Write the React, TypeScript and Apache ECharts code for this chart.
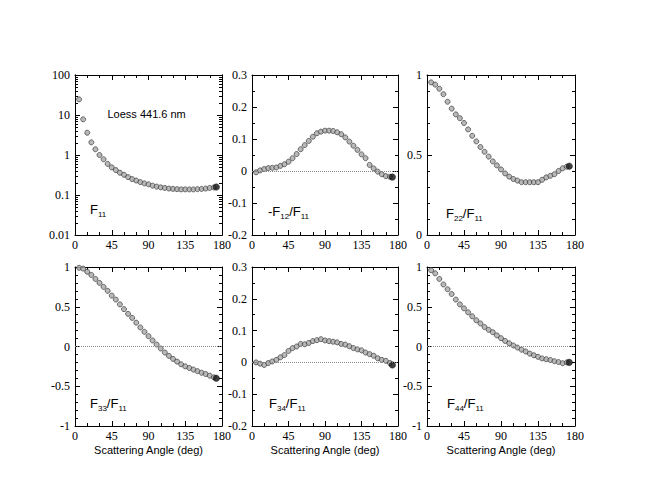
import React, { useEffect, useRef } from 'react';
import * as echarts from 'echarts';

// Scattering angles (deg)
const angles = [5, 10, 15, 20, 25, 30, 35, 40, 45, 50, 55, 60, 65, 70, 75, 80, 85, 90, 95, 100, 105, 110, 115, 120, 125, 130, 135, 140, 145, 150, 155, 160, 165, 170];
const lastAngle = 173;

const f11 = [24.6, 7.8, 3.6, 2.07, 1.39, 1.0, 0.78, 0.6, 0.49, 0.42, 0.36, 0.32, 0.28, 0.25, 0.23, 0.21, 0.195, 0.185, 0.171, 0.162, 0.155, 0.15, 0.145, 0.142, 0.14, 0.138, 0.138, 0.138, 0.138, 0.14, 0.142, 0.145, 0.15, 0.155];
const f11Last = 0.158;

const mf12 = [-0.004, 0.002, 0.006, 0.009, 0.01, 0.011, 0.016, 0.021, 0.029, 0.04, 0.053, 0.068, 0.081, 0.094, 0.107, 0.118, 0.123, 0.126, 0.126, 0.125, 0.121, 0.115, 0.105, 0.092, 0.079, 0.066, 0.052, 0.04, 0.019, 0.008, -0.002, -0.01, -0.016, -0.018];
const mf12Last = -0.019;

const f22 = [0.954, 0.94, 0.914, 0.88, 0.833, 0.79, 0.754, 0.73, 0.7, 0.66, 0.62, 0.585, 0.55, 0.52, 0.49, 0.46, 0.435, 0.41, 0.385, 0.365, 0.35, 0.34, 0.33, 0.33, 0.33, 0.33, 0.33, 0.345, 0.36, 0.37, 0.38, 0.4, 0.417, 0.427];
const f22Last = 0.43;

const f33 = [0.99, 0.98, 0.94, 0.9, 0.85, 0.8, 0.75, 0.7, 0.64, 0.59, 0.53, 0.47, 0.41, 0.36, 0.3, 0.24, 0.185, 0.13, 0.076, 0.025, -0.025, -0.076, -0.118, -0.156, -0.19, -0.224, -0.25, -0.27, -0.29, -0.31, -0.33, -0.346, -0.367, -0.388];
const f33Last = -0.4;

const f34 = [0.0, -0.004, -0.008, -0.002, 0.003, 0.008, 0.016, 0.023, 0.036, 0.045, 0.05, 0.058, 0.057, 0.061, 0.067, 0.07, 0.073, 0.069, 0.067, 0.065, 0.063, 0.058, 0.056, 0.051, 0.045, 0.041, 0.038, 0.031, 0.026, 0.021, 0.013, 0.008, 0.005, -0.002];
const f34Last = -0.008;

const f44 = [0.96, 0.92, 0.85, 0.78, 0.72, 0.66, 0.59, 0.53, 0.48, 0.43, 0.38, 0.33, 0.29, 0.245, 0.21, 0.18, 0.14, 0.105, 0.07, 0.04, 0.013, -0.013, -0.04, -0.063, -0.09, -0.11, -0.13, -0.15, -0.16, -0.17, -0.185, -0.196, -0.21, -0.2];
const f44Last = -0.2;

const logMajor = [0.01, 0.1, 1, 10, 100];
const logMinor = [0.02, 0.03, 0.04, 0.05, 0.06, 0.07, 0.08, 0.09, 0.2, 0.3, 0.4, 0.5, 0.6, 0.7, 0.8, 0.9, 2, 3, 4, 5, 6, 7, 8, 9, 20, 30, 40, 50, 60, 70, 80, 90];

const title = 'Loess 441.6 nm';
const xTitle = 'Scattering Angle (deg)';

const panels = [
  { values: f11, last: f11Last, log: true, min: 0.01, max: 100, interval: 0, minorSplit: 0, zero: false, grid: { left: 75, top: 75, width: 147, height: 160 }, label: '{n|F}{s|11}', lx: 90, ly: 201 },
  { values: mf12, last: mf12Last, log: false, min: -0.2, max: 0.3, interval: 0.1, minorSplit: 2, zero: true, grid: { left: 252, top: 75, width: 146, height: 160 }, label: '{n|-F}{s|12}{n|/F}{s|11}', lx: 268, ly: 203 },
  { values: f22, last: f22Last, log: false, min: 0, max: 1, interval: 0.5, minorSplit: 5, zero: false, grid: { left: 427, top: 75, width: 148, height: 160 }, label: '{n|F}{s|22}{n|/F}{s|11}', lx: 446, ly: 205 },
  { values: f33, last: f33Last, log: false, min: -1, max: 1, interval: 0.5, minorSplit: 5, zero: true, grid: { left: 75, top: 267, width: 147, height: 159 }, label: '{n|F}{s|33}{n|/F}{s|11}', lx: 90, ly: 395 },
  { values: f34, last: f34Last, log: false, min: -0.2, max: 0.3, interval: 0.1, minorSplit: 2, zero: true, grid: { left: 252, top: 267, width: 146, height: 159 }, label: '{n|F}{s|34}{n|/F}{s|11}', lx: 269, ly: 395 },
  { values: f44, last: f44Last, log: false, min: -1, max: 1, interval: 0.5, minorSplit: 5, zero: true, grid: { left: 427, top: 267, width: 148, height: 159 }, label: '{n|F}{s|44}{n|/F}{s|11}', lx: 447, ly: 395 },
];

const serif = 'Liberation Serif';
const sans = 'Liberation Sans';

export default function App() {
  const ref = useRef<HTMLDivElement>(null);
  useEffect(() => {
    if (!ref.current) return;
    const chart = echarts.init(ref.current, null, { renderer: 'svg' });
    const grids: any[] = [];
    const xAxes: any[] = [];
    const yAxes: any[] = [];
    const series: any[] = [];
    const graphics: any[] = [];
    const axisLine = { show: true, onZero: false, lineStyle: { color: '#000', width: 1 } };
    const tick = { show: true, inside: true, length: 5, lineStyle: { color: '#000', width: 1 } };
    const minor = (n: number) => ({ show: n > 0, splitNumber: n || 5, length: 3, lineStyle: { color: '#000', width: 1 } });

    panels.forEach((p, i) => {
      grids.push({ ...p.grid, containLabel: false, show: false });
      const xBase = { type: 'value', gridIndex: i, min: 0, max: 180, interval: 45, axisLine, axisTick: tick, minorTick: minor(3), splitLine: { show: false } };
      const xi = xAxes.length;
      xAxes.push({ ...xBase, position: 'bottom', axisLabel: { show: true, margin: 4, color: '#000', fontFamily: serif, fontSize: 12 } });
      xAxes.push({ ...xBase, position: 'top', axisLabel: { show: false } });
      const yi = yAxes.length;
      if (p.log) {
        const yBase = { type: 'log', logBase: 10, gridIndex: i, min: p.min, max: p.max, axisLine, splitLine: { show: false } };
        yAxes.push({ ...yBase, position: 'left', axisTick: { ...tick, customValues: logMajor }, axisLabel: { show: true, customValues: logMajor, margin: 5, color: '#000', fontFamily: serif, fontSize: 12, formatter: (v: number) => String(v) } });
        yAxes.push({ ...yBase, position: 'right', axisTick: { ...tick, customValues: logMajor }, axisLabel: { show: false } });
        yAxes.push({ ...yBase, position: 'left', axisTick: { ...tick, length: 3, customValues: logMinor }, axisLabel: { show: false } });
        yAxes.push({ ...yBase, position: 'right', axisTick: { ...tick, length: 3, customValues: logMinor }, axisLabel: { show: false } });
      } else {
        const yBase = { type: 'value', gridIndex: i, min: p.min, max: p.max, interval: p.interval, axisLine, axisTick: tick, minorTick: minor(p.minorSplit), splitLine: { show: false } };
        yAxes.push({ ...yBase, position: 'left', axisLabel: { show: true, margin: 5, color: '#000', fontFamily: serif, fontSize: 12 } });
        yAxes.push({ ...yBase, position: 'right', axisLabel: { show: false } });
      }
      series.push({
        type: 'scatter',
        xAxisIndex: xi,
        yAxisIndex: yi,
        symbol: 'circle',
        symbolSize: 5,
        itemStyle: { color: '#a8a8a8', borderColor: '#3a3a3a', borderWidth: 0.9 },
        data: angles.map((a, k) => [a, p.values[k]]),
        markLine: p.zero ? {
          silent: true,
          symbol: 'none',
          label: { show: false },
          lineStyle: { color: '#888', type: 'dotted', width: 1 },
          data: [{ yAxis: 0 }],
        } : undefined,
        z: 3,
      });
      series.push({
        type: 'scatter',
        xAxisIndex: xi,
        yAxisIndex: yi,
        symbol: 'circle',
        symbolSize: 6.5,
        itemStyle: { color: '#111', borderColor: '#000', borderWidth: 0.5 },
        data: [[lastAngle, p.last]],
        z: 4,
      });
      graphics.push({
        type: 'text',
        x: p.lx,
        y: p.ly,
        style: {
          text: p.label,
          rich: {
            n: { fontFamily: sans, fontSize: 13, color: '#000', lineHeight: 17, verticalAlign: 'middle' },
            s: { fontFamily: sans, fontSize: 8, color: '#000', lineHeight: 17, verticalAlign: 'bottom' },
          },
        },
      });
    });

    graphics.push({ type: 'text', x: 107.5, y: 108, style: { text: title, fontFamily: sans, fontSize: 11, fill: '#000' } });
    [75 + 147 / 2, 252 + 146 / 2, 427 + 148 / 2].forEach((cx) => {
      graphics.push({ type: 'text', x: cx, y: 444, style: { text: xTitle, fontFamily: sans, fontSize: 11, fill: '#000', textAlign: 'center' } });
    });

    chart.setOption({
      animation: false,
      backgroundColor: '#fff',
      grid: grids,
      xAxis: xAxes,
      yAxis: yAxes,
      series,
      graphic: graphics,
    });
    return () => chart.dispose();
  }, []);
  return <div ref={ref} style={{ position: 'absolute', left: 0, top: 0, width: 650, height: 502, background: '#fff' }} />;
}
